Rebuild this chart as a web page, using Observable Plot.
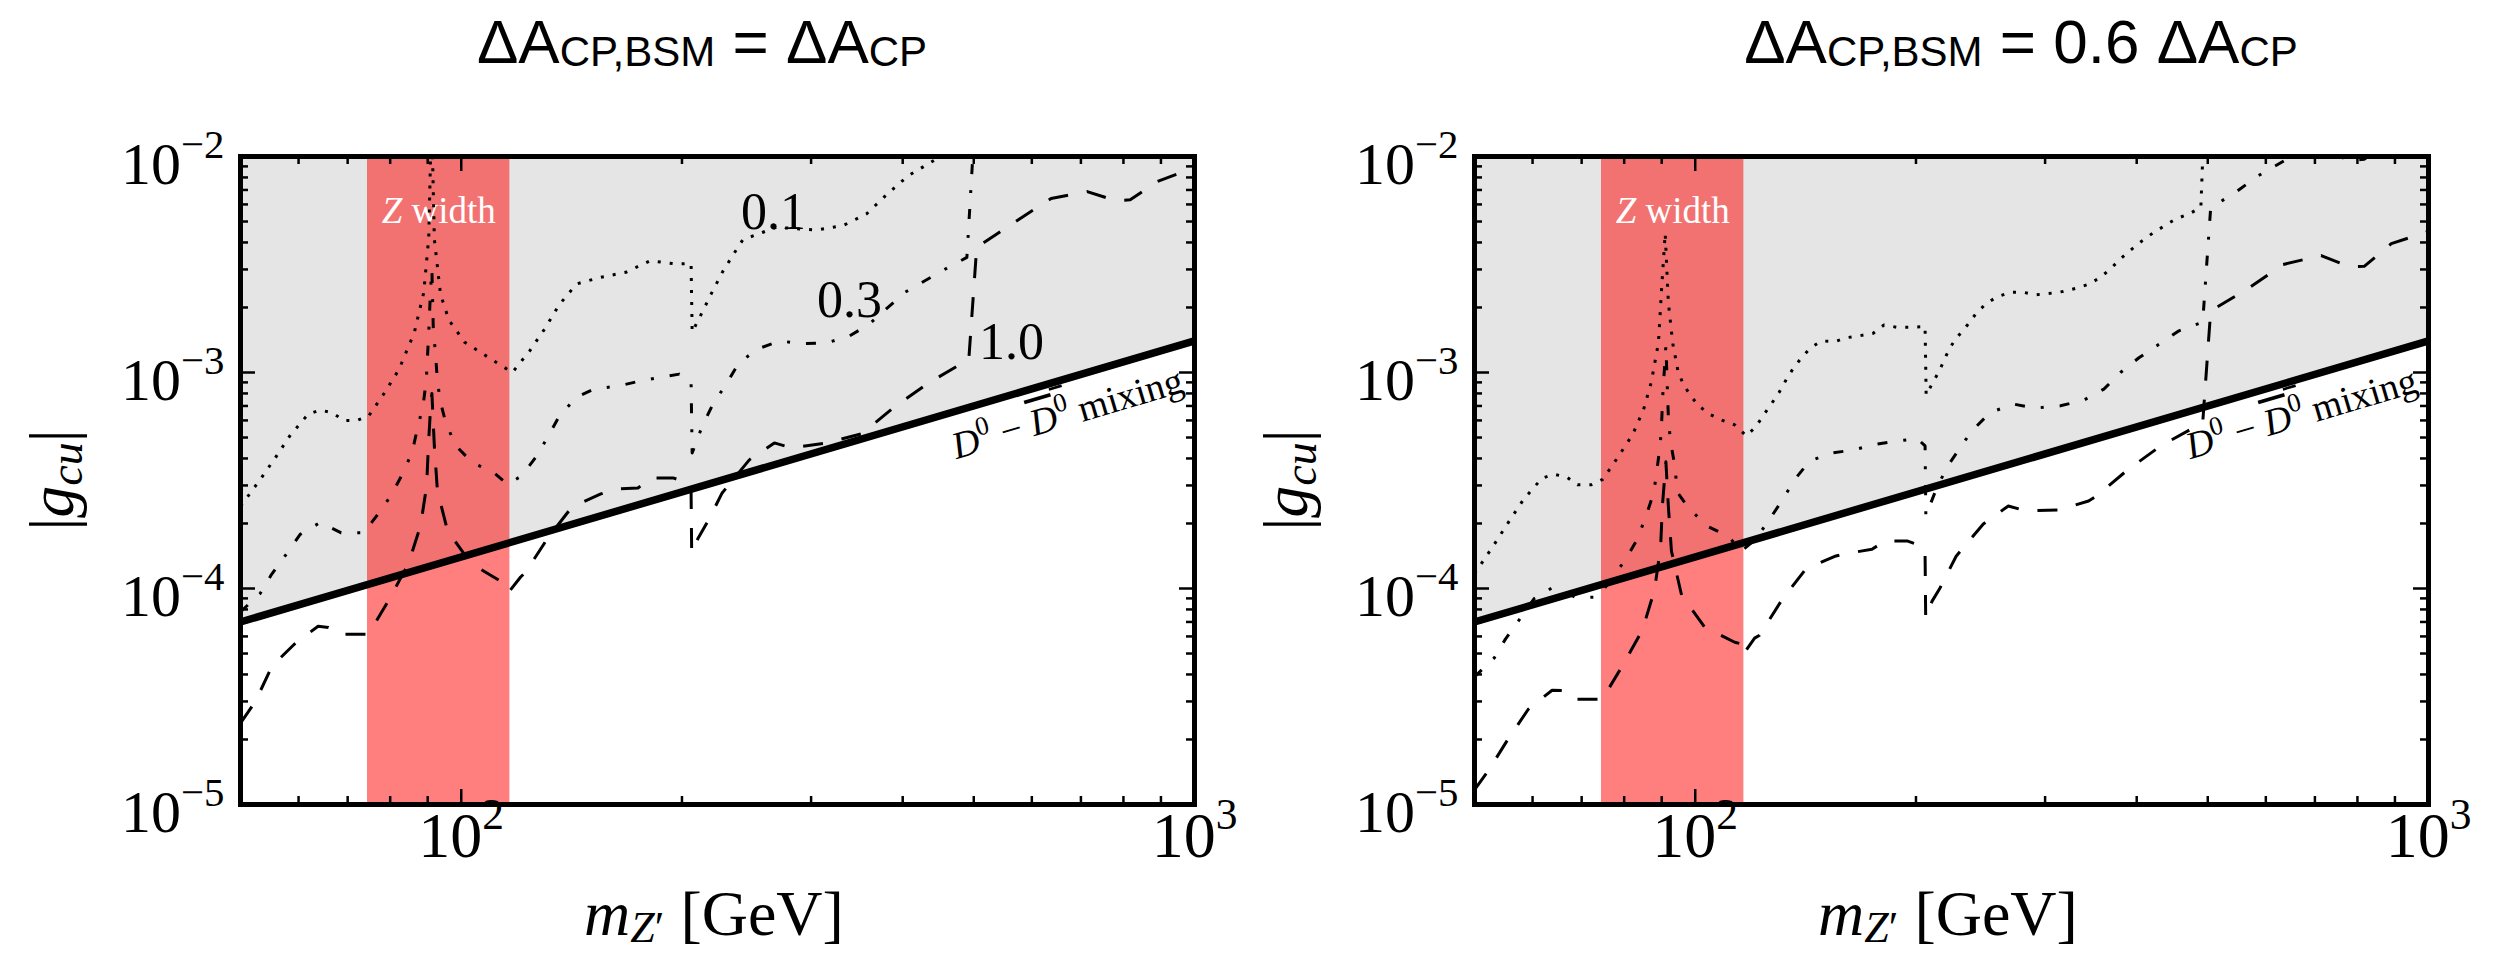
<!DOCTYPE html>
<html>
<head>
<meta charset="utf-8">
<script src="https://cdn.jsdelivr.net/npm/d3@7"></script>
<script src="https://cdn.jsdelivr.net/npm/@observablehq/plot@0.6"></script>
<style>
  html, body { margin: 0; padding: 0; background: #fff; }
  #page { position: relative; width: 2504px; height: 959px; overflow: hidden; background: #fff; }
  .panel { position: absolute; top: 0; width: 1252px; height: 959px; }
  .panel svg { display: block; overflow: visible; }
  .title { position: absolute; top: 10.5px; transform: translateX(-50%); font-family: "Liberation Sans", Arial, sans-serif; font-size: 62px; line-height: 1; white-space: nowrap; color: #000; }
  .title .sb { font-size: 42px; position: relative; top: 3px; }
  .serif { position: absolute; font-family: "Liberation Serif", "DejaVu Serif", serif; color: #000; white-space: nowrap; line-height: 1; }
  .ylab { font-size: 64px; transform: translate(-50%, -50%) rotate(-90deg); }
  .xlab { font-size: 64px; transform: translateX(-50%); }
  .sub { font-size: 46px; position: relative; top: 0.2em; }
</style>
</head>
<body>
<div id="page"></div>
<script>
// ---------------- data ----------------
const massDomain = [50, 1000];          // m_Z' [GeV]
const couplingDomain = [1e-5, 1e-2];    // |g_cu|

const xMajorTicks = [100, 1000];
const xTickLabels = ["10^2", "10^3"];
const xMinorTicks = [60, 70, 80, 90, 200, 300, 400, 500, 600, 700, 800, 900];
const yMajorTicks = [1e-5, 1e-4, 1e-3, 1e-2];
const yTickLabels = ["10^-5", "10^-4", "10^-3", "10^-2"];
const yMinorTicks = [2e-5, 3e-5, 4e-5, 5e-5, 6e-5, 7e-5, 8e-5, 9e-5,
                     2e-4, 3e-4, 4e-4, 5e-4, 6e-4, 7e-4, 8e-4, 9e-4,
                     2e-3, 3e-3, 4e-3, 5e-3, 6e-3, 7e-3, 8e-3, 9e-3];

const zWidthBand = [74.5, 116.5];
const mixingMass = [50, 1000];
const mixingCoupling = [7.0e-5, 1.4e-3];

const panelTitles = ["ΔA<span class='sb'>CP,BSM</span> = ΔA<span class='sb'>CP</span>",
                     "ΔA<span class='sb'>CP,BSM</span> = 0.6 ΔA<span class='sb'>CP</span>"];
const contourLabels = ["0.1", "0.3", "1.0"];

// left panel: ΔA_CP,BSM = ΔA_CP
const leftDotted = [
  [50, 2.4e-4], [53.2, 3.2e-4], [55.7, 4.0e-4], [58.4, 5.1e-4], [61.8, 6.4e-4], [64.2, 6.7e-4],
  [66.8, 6.5e-4], [69.1, 6.0e-4], [72.1, 6.0e-4], [74.8, 6.3e-4], [78.5, 8.0e-4], [82.2, 1.03e-3],
  [86.3, 1.53e-3], [88.9, 2.35e-3], [90.3, 4.2e-3], [91.1, 1.6e-2], [91.9, 4.15e-3], [93.7, 2.3e-3],
  [96.2, 1.75e-3], [101.1, 1.38e-3], [108.7, 1.18e-3], [117.4, 1.0e-3], [124.0, 1.26e-3],
  [130.1, 1.6e-3], [135.9, 2.05e-3], [143.6, 2.57e-3], [155.0, 2.76e-3], [167.7, 2.91e-3],
  [180.9, 3.29e-3], [196.3, 3.18e-3], [205.8, 3.2e-3], [206.5, 1.54e-3], [210.9, 1.77e-3],
  [219.2, 2.31e-3], [227.4, 2.94e-3], [237.1, 3.69e-3], [242.2, 4.12e-3], [257.9, 4.46e-3],
  [269.0, 4.7e-3], [305.0, 4.57e-3], [331.8, 4.79e-3], [357.0, 5.42e-3], [380.2, 6.65e-3],
  [407.2, 8.16e-3], [437.2, 9.41e-3], [470, 1.1e-2]
];
const leftDashDot = [
  [50, 7.8e-5], [53.2, 9.5e-5], [55.1, 1.16e-4], [57.8, 1.45e-4], [60.3, 1.78e-4], [64.2, 2.02e-4],
  [68.6, 1.81e-4], [73.6, 1.81e-4], [77.0, 2.21e-4], [80.3, 2.71e-4], [83.1, 3.38e-4], [85.7, 4.26e-4],
  [87.2, 5.56e-4], [88.7, 7.0e-4], [89.6, 9.2e-4], [90.3, 1.53e-3], [90.8, 2.4e-3], [91.2, 3.0e-3],
  [91.6, 1.59e-3], [92.2, 1.24e-3], [92.7, 9.6e-4], [93.5, 7.5e-4], [95.2, 5.9e-4], [98.2, 4.6e-4],
  [103.5, 3.83e-4], [110.8, 3.44e-4], [115.6, 3.04e-4], [120.9, 3.32e-4], [126.3, 4.04e-4],
  [131.5, 5.09e-4], [135.7, 6.19e-4], [143.3, 7.66e-4], [151.8, 8.38e-4], [164.2, 8.68e-4],
  [175.9, 9.15e-4], [188.3, 9.55e-4], [198.4, 9.83e-4], [205.8, 9.0e-4], [206.5, 4.24e-4],
  [213.1, 5.64e-4], [220.4, 7.14e-4], [229.8, 8.83e-4], [238.4, 1.09e-3], [252.6, 1.28e-3],
  [271.8, 1.40e-3], [290.9, 1.36e-3], [314.8, 1.37e-3], [338.8, 1.48e-3], [358.9, 1.66e-3],
  [402.8, 2.35e-3], [428.9, 2.66e-3], [461.8, 3.07e-3], [489.3, 3.41e-3], [502, 1.5e-2]
];
const leftDashed = [
  [50, 2.38e-5], [52.4, 3.0e-5], [55.2, 4.37e-5], [59.2, 5.52e-5], [63.8, 6.69e-5], [65.9, 6.6e-5],
  [68.0, 6.14e-5], [74.7, 6.14e-5], [79.5, 8.74e-5], [84.7, 1.3e-4], [88.0, 1.95e-4], [89.7, 2.98e-4],
  [90.2, 4.57e-4], [90.8, 6.8e-4], [91.2, 8.0e-4], [91.9, 4.57e-4], [92.8, 2.83e-4], [95.8, 1.85e-4],
  [103.0, 1.31e-4], [113.2, 1.08e-4], [116.0, 1.03e-4], [116.3, 9.7e-5], [120.5, 1.13e-4],
  [122.4, 1.19e-4], [131.2, 1.71e-4], [141.5, 2.38e-4], [155.0, 2.74e-4], [162.5, 2.89e-4],
  [174.2, 2.92e-4], [181.5, 3.25e-4], [194.5, 3.25e-4], [203.9, 3.08e-4], [205.8, 2.83e-4],
  [206.2, 1.46e-4], [210.4, 1.71e-4], [217.8, 2.1e-4], [226.9, 2.77e-4], [247.1, 3.94e-4],
  [267.3, 4.72e-4], [282.0, 4.48e-4], [314.8, 4.72e-4], [351.6, 5.2e-4], [391.2, 7.0e-4],
  [434.0, 8.96e-4], [481.4, 1.10e-3], [492.1, 1.13e-3], [504.6, 3.79e-3], [551.3, 4.64e-3],
  [637.4, 6.39e-3], [713.9, 6.88e-3], [779.6, 6.25e-3], [817.2, 6.3e-3], [889.7, 7.66e-3],
  [1000, 8.9e-3]
];

// right panel: ΔA_CP,BSM = 0.6 ΔA_CP
const rightDotted = [
  [50, 1.17e-4], [53.2, 1.60e-4], [55.7, 2.04e-4], [58.4, 2.60e-4], [61.8, 3.24e-4], [64.2, 3.38e-4],
  [66.8, 3.28e-4], [69.1, 3.02e-4], [72.1, 3.02e-4], [74.8, 3.2e-4], [78.5, 4.07e-4], [82.2, 5.18e-4],
  [85.1, 6.81e-4], [87.1, 9.0e-4], [89.1, 1.38e-3], [90.0, 2.48e-3], [91.0, 4.4e-3], [91.9, 2.11e-3],
  [93.2, 1.36e-3], [94.7, 1.02e-3], [96.2, 8.9e-4], [98.4, 7.86e-4], [101.1, 7.01e-4], [104.6, 6.41e-4],
  [108.7, 6.02e-4], [113.2, 5.72e-4], [117.4, 5.09e-4], [120.9, 5.6e-4], [124.0, 6.37e-4],
  [127.1, 7.18e-4], [130.1, 8.08e-4], [132.8, 9.15e-4], [135.9, 1.04e-3], [139.6, 1.17e-3],
  [143.6, 1.30e-3], [148.7, 1.40e-3], [155.0, 1.39e-3], [160.9, 1.45e-3], [167.7, 1.48e-3],
  [174.9, 1.52e-3], [180.9, 1.66e-3], [188.3, 1.62e-3], [196.3, 1.62e-3], [205.8, 1.63e-3],
  [206.5, 7.86e-4], [210.9, 8.99e-4], [215.3, 1.02e-3], [219.2, 1.17e-3], [222.7, 1.31e-3],
  [227.4, 1.45e-3], [235.1, 1.66e-3], [241.4, 1.87e-3], [249.1, 2.08e-3], [257.9, 2.24e-3],
  [269.0, 2.35e-3], [280.4, 2.35e-3], [290.9, 2.29e-3], [303.4, 2.32e-3], [317.1, 2.37e-3],
  [331.8, 2.46e-3], [345.0, 2.57e-3], [357.0, 2.76e-3], [368.5, 3.02e-3], [380.2, 3.36e-3],
  [392.5, 3.69e-3], [407.2, 4.08e-3], [422.3, 4.46e-3], [437.2, 4.79e-3], [452.2, 5.14e-3],
  [471.5, 5.42e-3], [489.3, 5.82e-3], [496, 2.0e-2]
];
const rightDashDot = [
  [50, 3.9e-5], [53.2, 4.77e-5], [55.1, 5.83e-5], [57.8, 7.31e-5], [60.3, 8.98e-5], [64.2, 1.02e-4],
  [68.8, 9.07e-5], [73.6, 9.12e-5], [77.0, 1.11e-4], [80.3, 1.36e-4], [83.3, 1.68e-4], [85.7, 2.17e-4],
  [87.8, 2.78e-4], [88.7, 3.57e-4], [89.6, 4.65e-4], [90.0, 5.93e-4], [90.3, 7.8e-4], [91.2, 1.33e-3],
  [91.9, 6.25e-4], [92.5, 4.82e-4], [93.7, 3.76e-4], [94.6, 2.78e-4], [98.2, 2.33e-4], [104.3, 1.93e-4],
  [110.8, 1.75e-4], [115.6, 1.49e-4], [120.9, 1.69e-4], [126.5, 2.11e-4], [131.5, 2.57e-4],
  [136.7, 3.2e-4], [143.3, 3.9e-4], [153.8, 4.24e-4], [164.2, 4.38e-4], [176.4, 4.65e-4],
  [188.3, 4.82e-4], [201.0, 4.93e-4], [205.8, 4.57e-4], [206.3, 2.17e-4], [213.1, 2.88e-4],
  [220.4, 3.64e-4], [229.8, 4.49e-4], [238.4, 5.37e-4], [252.6, 6.53e-4], [271.8, 7.14e-4],
  [290.9, 6.84e-4], [314.8, 7.01e-4], [338.8, 7.45e-4], [360.8, 8.38e-4], [380.2, 1.0e-3],
  [402.8, 1.17e-3], [428.9, 1.35e-3], [456.8, 1.56e-3], [492.1, 1.71e-3], [504.6, 5.8e-3],
  [545.9, 6.83e-3], [581.6, 8.02e-3], [619.4, 9.08e-3], [659.6, 1.03e-2], [713, 1.08e-2],
  [780, 9.6e-3], [817, 9.7e-3], [890, 1.2e-2]
];
const rightDashed = [
  [50, 1.17e-5], [52.4, 1.46e-5], [55.2, 1.94e-5], [59.2, 2.76e-5], [63.8, 3.38e-5], [65.9, 3.37e-5],
  [68.0, 3.07e-5], [74.7, 3.07e-5], [79.5, 4.37e-5], [84.7, 6.41e-5], [88.0, 9.83e-5], [89.7, 1.56e-4],
  [90.2, 2.41e-4], [91.2, 3.86e-4], [91.9, 2.41e-4], [92.8, 1.49e-4], [95.8, 9.32e-5], [103.0, 6.62e-5],
  [113.2, 5.64e-5], [116.0, 5.52e-5], [116.3, 4.96e-5], [120.5, 5.89e-5], [122.4, 6.08e-5],
  [131.2, 8.83e-5], [141.5, 1.23e-4], [155.0, 1.41e-4], [162.5, 1.46e-4], [174.2, 1.52e-4],
  [181.5, 1.66e-4], [194.5, 1.66e-4], [203.9, 1.57e-4], [205.8, 1.44e-4], [206.2, 7.29e-5],
  [210.4, 8.74e-5], [215.3, 9.94e-5], [226.9, 1.41e-4], [247.1, 1.99e-4], [267.3, 2.41e-4],
  [282.0, 2.29e-4], [312.8, 2.31e-4], [343.9, 2.54e-4], [352.7, 2.68e-4], [388.7, 3.54e-4],
  [431.2, 4.57e-4], [485.9, 5.72e-4], [492, 5.8e-4], [504.6, 1.93e-3], [567.0, 2.44e-3],
  [633.0, 3.16e-3], [713.9, 3.48e-3], [779.6, 3.09e-3], [817.2, 3.1e-3], [889.7, 3.95e-3],
  [1000, 4.5e-3]
];

// ---------------- rendering ----------------
const NS = "http://www.w3.org/2000/svg";
function tspan(parent, text, attrs = {}) {
  const t = document.createElementNS(NS, "tspan");
  for (const [k, v] of Object.entries(attrs)) t.setAttribute(k, v);
  if (text != null) t.textContent = text;
  parent.appendChild(t);
  return t;
}
function richText(svg) {
  svg.querySelectorAll("text").forEach(t => {
    const s = t.textContent;
    const holder = t.closest("[font-size]");
    const fs = holder ? parseFloat(holder.getAttribute("font-size")) : 60;
    const m = s.match(/^10\^(.+)$/);
    if (m) {
      t.textContent = "";
      tspan(t, "10");
      tspan(t, m[1].replace("-", "\u2212"), {"font-size": (0.68 * fs).toFixed(1), dy: (-0.43 * fs).toFixed(1)});
    } else if (s === "Z width") {
      t.textContent = "";
      tspan(t, "Z", {"font-style": "italic"});
      tspan(t, " width");
    } else if (s === "D0 - D0 mixing") {
      t.textContent = "";
      const sup = (0.7 * fs).toFixed(1), up = 0.42 * fs;
      tspan(t, "D", {"font-style": "italic"});
      tspan(t, "0", {"font-size": sup, dy: (-up).toFixed(1)});
      tspan(t, " \u2212 ", {dy: up.toFixed(1)});
      const ov = tspan(t, null, {"text-decoration": "overline"});
      tspan(ov, "D", {"font-style": "italic"});
      tspan(ov, "0", {"font-size": sup, dy: (-up).toFixed(1)});
      tspan(t, " mixing", {dy: up.toFixed(1)});
    }
  });
}

function makePlot({dotted, dashDot, dashed, showContourLabels, marginLeft, marginRight}) {
  const W = 1252, H = 959, mt = 156, mb = 155;
  const innerW = W - marginLeft - marginRight, innerH = H - mt - mb;
  const pts = arr => arr.map(([m, g]) => ({m, g}));
  const mixing = mixingMass.map((m, i) => ({m, g: mixingCoupling[i]}));
  const curve = (arr, dash) => Plot.line(pts(arr), {x: "m", y: "g", stroke: "#000", strokeWidth: 3,
    strokeDasharray: dash, strokeLinecap: "butt", clip: true});
  const marks = [
    Plot.areaY(mixing, {x: "m", y1: "g", y2: couplingDomain[1], fill: "#e5e5e5", clip: true}),
    Plot.rect([zWidthBand], {x1: d => d[0], x2: d => d[1], y1: couplingDomain[0], y2: couplingDomain[1],
      fill: "#ff0000", fillOpacity: 0.5}),
    Plot.text(["Z width"], {x: 93.2, y: 5.6e-3, text: d => d, fill: "#fff", fontSize: 37}),
    curve(dotted, "3,9"),
    curve(dashDot, "10,16,3,16"),
    curve(dashed, "20,19"),
    Plot.line(mixing, {x: "m", y: "g", stroke: "#000", strokeWidth: 7.5, clip: true}),
    Plot.text(["D0 - D0 mixing"], {x: 671, y: 6.45e-4, text: d => d, rotate: -16.5, fontSize: 38}),
    // inward ticks on all four sides
    Plot.tickY(yMinorTicks, {y: d => d, insetRight: innerW - 8, stroke: "#000", strokeWidth: 2.5}),
    Plot.tickY(yMinorTicks, {y: d => d, insetLeft: innerW - 8, stroke: "#000", strokeWidth: 2.5}),
    Plot.tickY(yMajorTicks, {y: d => d, insetRight: innerW - 15, stroke: "#000", strokeWidth: 2.5}),
    Plot.tickY(yMajorTicks, {y: d => d, insetLeft: innerW - 15, stroke: "#000", strokeWidth: 2.5}),
    Plot.tickX(xMinorTicks, {x: d => d, insetTop: innerH - 8, stroke: "#000", strokeWidth: 2.5}),
    Plot.tickX(xMinorTicks, {x: d => d, insetBottom: innerH - 8, stroke: "#000", strokeWidth: 2.5}),
    Plot.tickX(xMajorTicks, {x: d => d, insetTop: innerH - 15, stroke: "#000", strokeWidth: 2.5}),
    Plot.tickX(xMajorTicks, {x: d => d, insetBottom: innerH - 15, stroke: "#000", strokeWidth: 2.5}),
    Plot.frame({stroke: "#000", strokeWidth: 5}),
    Plot.text(yMajorTicks, {y: d => d, text: (d, i) => yTickLabels[i], frameAnchor: "left",
      textAnchor: "end", dx: -16, dy: 8, fontSize: 60}),
    Plot.text(xMajorTicks, {x: d => d, text: (d, i) => xTickLabels[i], frameAnchor: "bottom",
      dy: 52, fontSize: 64})
  ];
  if (showContourLabels) {
    marks.push(Plot.text(contourLabels, {x: [266.7, 338.4, 562.9], y: [5.5e-3, 2.16e-3, 1.38e-3],
      text: d => d, fontSize: 52}));
  }
  const svg = Plot.plot({
    width: W, height: H, marginLeft, marginRight, marginTop: mt, marginBottom: mb,
    x: {type: "log", domain: massDomain, axis: null},
    y: {type: "log", domain: couplingDomain, axis: null},
    style: {fontFamily: "'Liberation Serif', 'DejaVu Serif', serif", background: "transparent", color: "#000"},
    marks
  });
  richText(svg);
  return svg;
}

const page = document.getElementById("page");
function addPanel(left, cfg) {
  const div = document.createElement("div");
  div.className = "panel";
  div.style.left = left + "px";
  div.appendChild(makePlot(cfg));
  page.appendChild(div);
}
addPanel(0, {dotted: leftDotted, dashDot: leftDashDot, dashed: leftDashed, showContourLabels: true,
  marginLeft: 240, marginRight: 58});
addPanel(1252, {dotted: rightDotted, dashDot: rightDashDot, dashed: rightDashed, showContourLabels: false,
  marginLeft: 222, marginRight: 76});

function addHTML(cls, left, top, html) {
  const d = document.createElement("div");
  d.className = cls;
  d.style.left = left + "px";
  d.style.top = top + "px";
  d.innerHTML = html;
  page.appendChild(d);
}
addHTML("title", 702, 10.5, panelTitles[0]);
addHTML("title", 2021, 10.5, panelTitles[1]);
const yLabel = "|<i>g</i><span class='sub'><i>cu</i></span>|";
const xLabel = "<i>m</i><span class='sub' style='font-size:44px;top:0.15em'><i>Z</i>\u2032</span> [GeV]";
addHTML("serif ylab", 52, 480, yLabel);
addHTML("serif ylab", 1286, 480, yLabel);
addHTML("serif xlab", 714, 882, xLabel);
addHTML("serif xlab", 1948, 882, xLabel);
</script>
</body>
</html>
